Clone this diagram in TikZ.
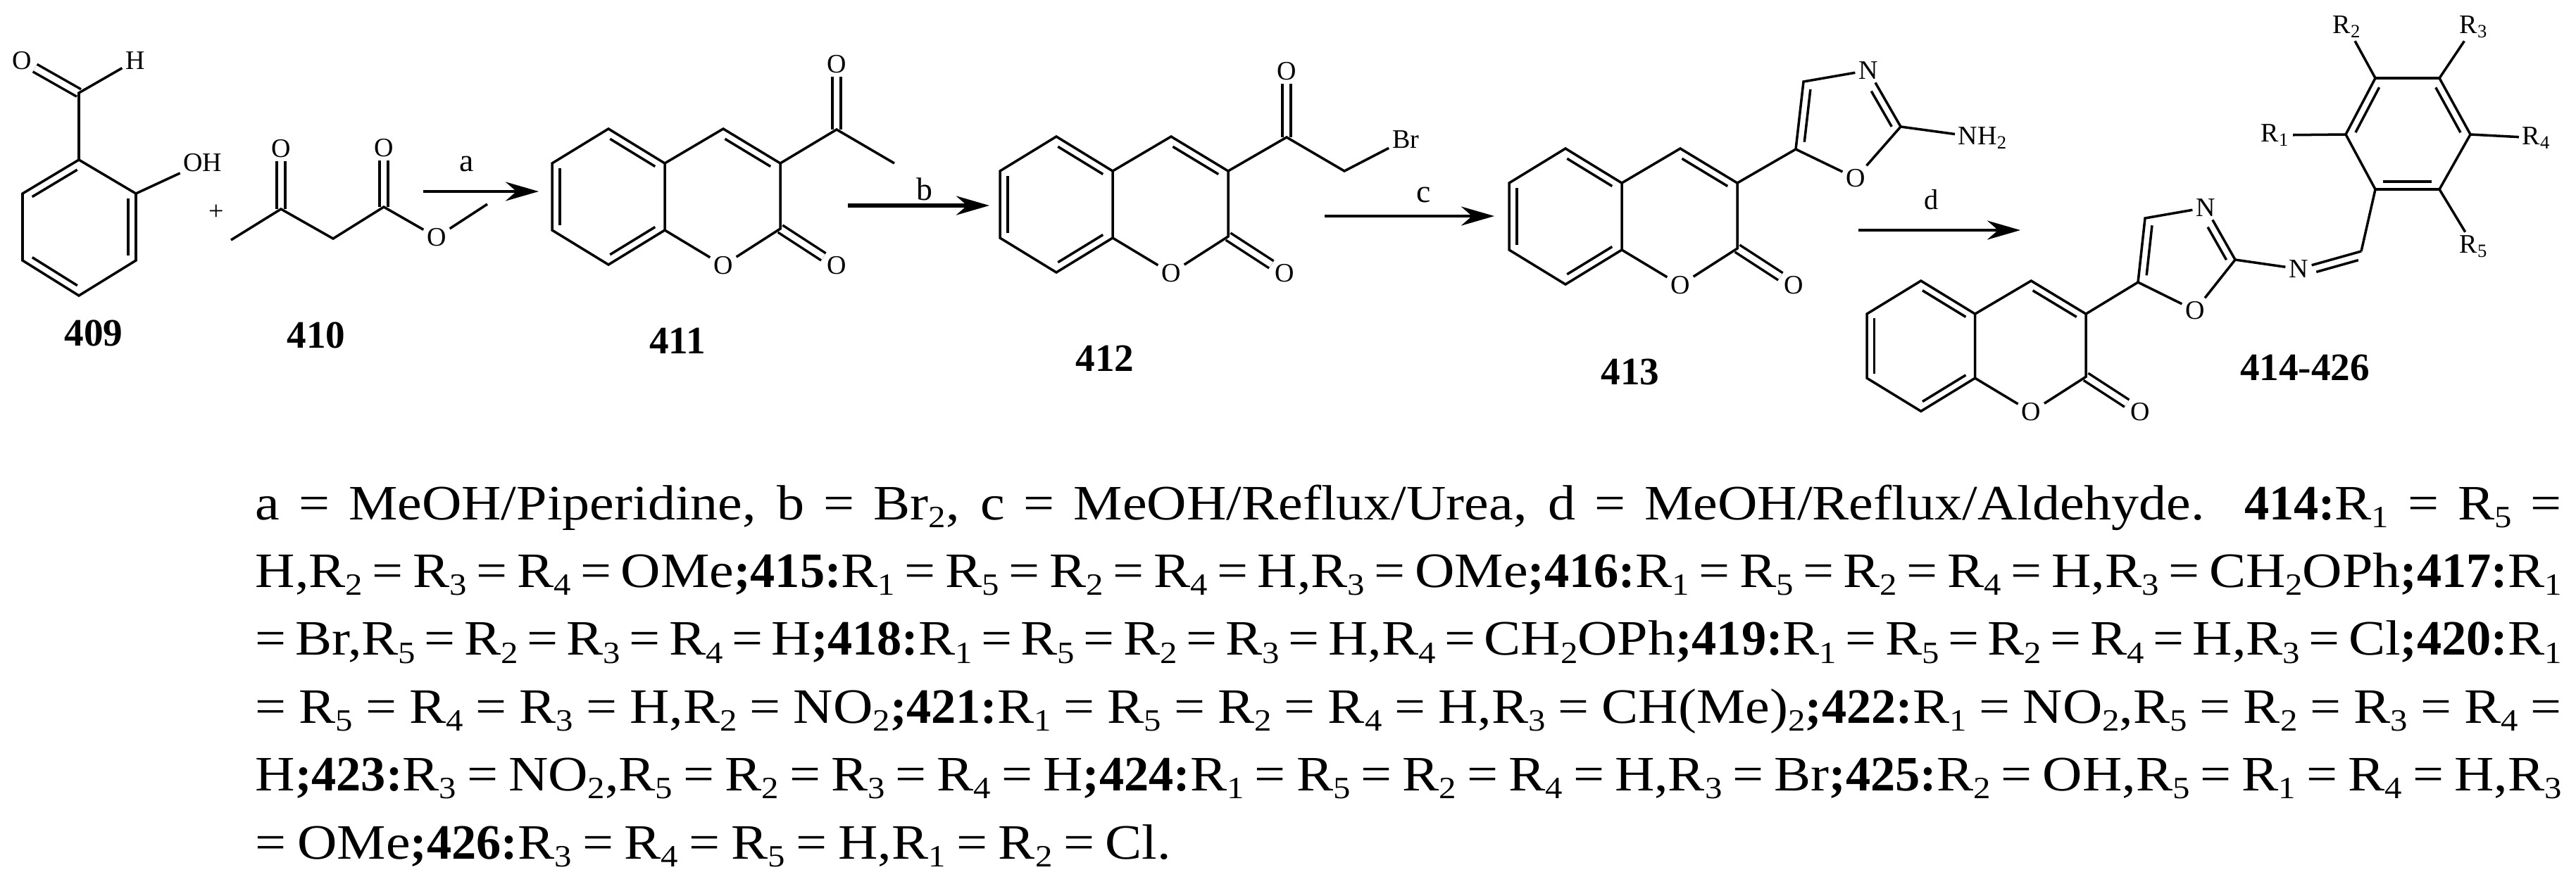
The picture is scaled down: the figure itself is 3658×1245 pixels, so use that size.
\documentclass[tikz,border=0pt]{standalone}
\usepackage{fontspec}
\usetikzlibrary{arrows.meta,calc}
\setmainfont{Liberation Serif}
\newfontfamily\notefont[FakeStretch=1.11,WordSpace=0.8,BoldFeatures={FakeStretch=1.0,WordSpace=0.8}]{Liberation Serif}
\newcommand{\lo}[1]{\raisebox{-.35ex}{\fontsize{12.5}{12.5}\selectfont #1}}
\newcommand{\Rn}[1]{R\lo{#1}}
\newcommand{\cpdno}[1]{\textbf{;#1:}}
\newcommand{\inbond}[4]{\draw[bond] ($(#1)!#3!(#2)!1.1mm!-90:(#2)$) -- ($(#2)!#4!(#1)!1.1mm!90:(#1)$);}
\newcommand{\coumarin}[4]{
	\begin{scope}[shift={(#2,#3)},scale=#4]
	\coordinate (#1a) at (80,-49);
	\coordinate (#1b) at (160,0);
	\coordinate (#1c) at (160,95);
	\coordinate (#1d) at (80,144);
	\coordinate (#1e) at (0,95);
	\coordinate (#1f) at (0,0);
	\coordinate (#1g) at (243,-49);
	\coordinate (#1h) at (324,0);
	\coordinate (#1i) at (324,93);
	\node[atom] (#1o) at (243,145) {O};
	\node[atom] (#1p) at (404,145) {O};
	\draw[dbond] (#1i) -- (#1p);
	\draw[bond] (#1a) -- (#1b) -- (#1c) -- (#1d) -- (#1e) -- (#1f) -- cycle;
	\draw[bond] (#1b) -- (#1g) -- (#1h) -- (#1i) -- (#1o) -- (#1c);
	\inbond{#1a}{#1b}{.1}{.1}
	\inbond{#1e}{#1f}{.07}{.07}
	\inbond{#1c}{#1d}{.1}{.1}
	\inbond{#1g}{#1h}{.1}{.1}
	\end{scope}
}
\tikzset{
	x=0.01cm,y=-0.01cm,
	bond/.style={line width=1pt,line join=miter},
	dbond/.style={double,double distance=2.4pt,line width=1pt},
	atom/.style={inner sep=1.2pt,font=\fontsize{10.8}{11}\selectfont},
	cpd/.style={inner sep=0pt,font=\fontsize{15.7}{16}\selectfont\bfseries},
	rxn/.style={line width=1.3pt,-{Stealth[length=4.7mm,width=2.7mm]}},
	cond/.style={inner sep=0pt,font=\fontsize{13}{14}\selectfont},
	notes/.style={inner sep=0pt,text width=32.73cm,align=justify,anchor=north west,font=\notefont\fontsize{20}{27.4}\selectfont}
}
\begin{document}
\begin{tikzpicture}
	\useasboundingbox (0,0) rectangle (3658,1245);
	\fill[white] (0,0) rectangle (3658,1245);
	\coordinate (sa) at (112,227);
	\coordinate (sb) at (193,275);
	\coordinate (sc) at (193,370);
	\coordinate (sd) at (112,420);
	\coordinate (se) at (32,370);
	\coordinate (sf) at (32,275);
	\coordinate (sg) at (112,132);
	\node[atom] (so) at (31,86) {O};
	\node[atom] (sh) at (192,86) {H};
	\node[atom] (soh) at (288,231) {OH};
	\draw[dbond] (sg) -- (so);
	\draw[bond] (sa) -- (sb) -- (sc) -- (sd) -- (se) -- (sf) -- cycle;
	\draw[bond] (sh) -- (sg) -- (sa);
	\draw[bond] (sb) -- (soh);
	\inbond{sf}{sa}{.1}{.1}
	\inbond{sb}{sc}{.07}{.07}
	\inbond{sd}{se}{.1}{.1}
	\node[atom] (plus) at (307,302) {+};
	\node[cpd] (n409) at (133,473) {409};

	\coordinate (ka) at (328,341);
	\coordinate (kb) at (399,297);
	\coordinate (kc) at (473,339);
	\coordinate (kd) at (545,294);
	\coordinate (ke) at (692,290);
	\node[atom] (ko) at (399,211) {O};
	\node[atom] (kp) at (545,210) {O};
	\node[atom] (kq) at (620,337) {O};
	\draw[dbond] (kb) -- (ko);
	\draw[dbond] (kd) -- (kp);
	\draw[bond] (ka) -- (kb) -- (kc) -- (kd) -- (kq) -- (ke);
	\node[cpd] (n410) at (449,476) {410};

	\coordinate (a1) at (601,272);
	\coordinate (a2) at (765,272);
	\draw[rxn] (a1) -- (a2);
	\node[cond] (ca) at (663,233) {a};

	\coumarin{m}{784}{232}{1}
	\coordinate (mj) at (1188,184);
	\coordinate (mk) at (1270,232);
	\node[atom] (ml) at (1188,91) {O};
	\draw[dbond] (mj) -- (ml);
	\draw[bond] (mh) -- (mj) -- (mk);
	\node[cpd] (n411) at (962,484) {411};

	\coordinate (b1) at (1204,292);
	\coordinate (b2) at (1405,292);
	\draw[rxn,line width=1.6pt] (b1) -- (b2);
	\node[cond] (cb) at (1313,269) {b};

	\coumarin{p}{1420}{243}{1}
	\coordinate (pj) at (1827,195);
	\coordinate (pk) at (1909,243);
	\node[atom] (pl) at (1827,101) {O};
	\node[atom] (pbr) at (1996,198) {Br};
	\draw[dbond] (pj) -- (pl);
	\draw[bond] (ph) -- (pj) -- (pk) -- (pbr);
	\node[cpd] (n412) at (1569,509) {412};

	\coordinate (c1) at (1881,307);
	\coordinate (c2) at (2122,307);
	\draw[rxn] (c1) -- (c2);
	\node[cond] (cc) at (2022,277) {c};

	\coumarin{q}{2143}{260}{1}
	\coordinate (qj) at (2550,212);
	\coordinate (qk) at (2561,116);
	\coordinate (ql) at (2699,180);
	\node[atom] (qn) at (2653,100) {N};
	\node[atom] (qo) at (2635,253) {O};
	\node[atom,anchor=west] (qa) at (2776,196) {NH\textsubscript{2}};
	\draw[bond] (qh) -- (qj) -- (qk) -- (qn) -- (ql) -- (qo) -- (qj);
	\draw[bond] (ql) -- (qa);
	\inbond{qj}{qk}{.12}{.1}
	\inbond{qn}{ql}{.3}{.07}
	\node[cpd] (n413) at (2315,528) {413};

	\coordinate (d1) at (2639,327);
	\coordinate (d2) at (2869,327);
	\draw[rxn] (d1) -- (d2);
	\node[cond,font=\fontsize{11.5}{12}\selectfont] (cd) at (2743,284) {d};

	\coumarin{r}{2651}{446}{.96}
	\coordinate (rj) at (3036,401);
	\coordinate (rk) at (3046,310);
	\coordinate (rl) at (3174,369);
	\coordinate (rm) at (3353,357);
	\node[atom] (rn) at (3132,295) {N};
	\node[atom] (ro) at (3117,441) {O};
	\node[atom] (rq) at (3264,382) {N};
	\draw[bond] (rh) -- (rj) -- (rk) -- (rn) -- (rl) -- (ro) -- (rj);
	\draw[bond] (rl) -- (rq) -- (rm);
	\inbond{rj}{rk}{.12}{.1}
	\inbond{rn}{rl}{.3}{.07}
	\inbond{rq}{rm}{.25}{.08}

	\coordinate (t1) at (3373,269);
	\coordinate (t2) at (3331,191);
	\coordinate (t3) at (3373,111);
	\coordinate (t4) at (3464,111);
	\coordinate (t5) at (3508,191);
	\coordinate (t6) at (3464,269);
	\node[atom] (u1) at (3231,192) {R\textsubscript{1}};
	\node[atom] (u2) at (3333,38) {R\textsubscript{2}};
	\node[atom] (u3) at (3513,38) {R\textsubscript{3}};
	\node[atom] (u4) at (3602,196) {R\textsubscript{4}};
	\node[atom] (u5) at (3513,350) {R\textsubscript{5}};
	\draw[bond] (t1) -- (t2) -- (t3) -- (t4) -- (t5) -- (t6) -- cycle;
	\draw[bond] (t1) -- (rm);
	\draw[bond] (t2) -- (u1);
	\draw[bond] (t3) -- (u2);
	\draw[bond] (t4) -- (u3);
	\draw[bond] (t5) -- (u4);
	\draw[bond] (t6) -- (u5);
	\inbond{t6}{t1}{.12}{.12}
	\inbond{t2}{t3}{.1}{.1}
	\inbond{t4}{t5}{.1}{.1}
	\node[cpd] (n414) at (3273,522) {414-426};

	\node[notes] (legend) at (362,688) {\tolerance=9999
		a = MeOH/Piperidine, b = Br\lo{2}, c = MeOH/Reflux/Urea, d = MeOH/Reflux/Aldehyde. \textbf{414:}\Rn{1} = \Rn{5} =\linebreak
		H,\Rn{2} = \Rn{3} = \Rn{4} = OMe\cpdno{415}\Rn{1} = \Rn{5} = \Rn{2} = \Rn{4} = H,\Rn{3} = OMe\cpdno{416}\Rn{1} = \Rn{5} = \Rn{2} = \Rn{4} = H,\Rn{3} = CH\lo{2}OPh\cpdno{417}\Rn{1}\linebreak
		= Br,\Rn{5} = \Rn{2} = \Rn{3} = \Rn{4} = H\cpdno{418}\Rn{1} = \Rn{5} = \Rn{2} = \Rn{3} = H,\Rn{4} = CH\lo{2}OPh\cpdno{419}\Rn{1} = \Rn{5} = \Rn{2} = \Rn{4} = H,\Rn{3} = Cl\cpdno{420}\Rn{1}\linebreak
		= \Rn{5} = \Rn{4} = \Rn{3} = H,\Rn{2} = NO\lo{2}\cpdno{421}\Rn{1} = \Rn{5} = \Rn{2} = \Rn{4} = H,\Rn{3} = CH(Me)\lo{2}\cpdno{422}\Rn{1} = NO\lo{2},\Rn{5} = \Rn{2} = \Rn{3} = \Rn{4} =\linebreak
		H\cpdno{423}\Rn{3} = NO\lo{2},\Rn{5} = \Rn{2} = \Rn{3} = \Rn{4} = H\cpdno{424}\Rn{1} = \Rn{5} = \Rn{2} = \Rn{4} = H,\Rn{3} = Br\cpdno{425}\Rn{2} = OH,\Rn{5} = \Rn{1} = \Rn{4} = H,\Rn{3}\linebreak
		= OMe\cpdno{426}\Rn{3} = \Rn{4} = \Rn{5} = H,\Rn{1} = \Rn{2} = Cl.};
\end{tikzpicture}
\end{document}
